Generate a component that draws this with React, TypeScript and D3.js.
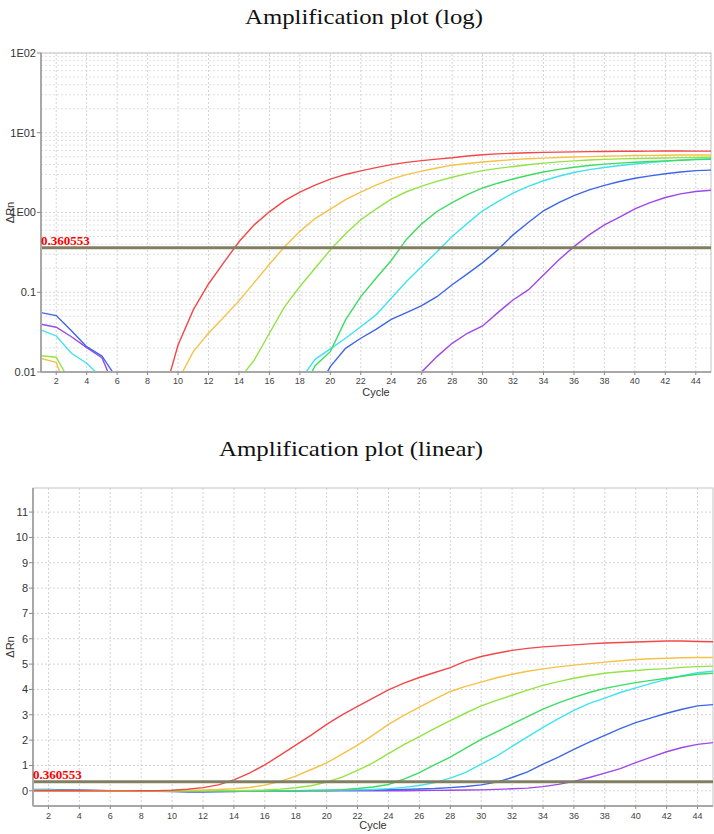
import * as d3 from 'd3';

const cycles = [
  1, 2, 3, 4, 5, 6, 7, 8, 9, 10, 11, 12, 13, 14, 15, 16, 17, 18, 19, 20, 21, 22, 23,
  24, 25, 26, 27, 28, 29, 30, 31, 32, 33, 34, 35, 36, 37, 38, 39, 40, 41, 42, 43, 44, 45,
];

const red = [
  0.004, 0.003, 0.002, 0.001, -0.002, -0.003, -0.002, 0.001, 0.0046, 0.0218,
  0.06, 0.127, 0.235, 0.43, 0.7, 1.02, 1.41, 1.8, 2.2, 2.62,
  3.0, 3.33, 3.66, 3.98, 4.25, 4.47, 4.67, 4.86, 5.12, 5.3,
  5.43, 5.54, 5.62, 5.68, 5.72, 5.76, 5.8, 5.83, 5.85, 5.87,
  5.89, 5.91, 5.91, 5.89, 5.88,
];
const orange = [
  0.0148, 0.0132, 0.004, 0.001, -0.001, -0.002, -0.002, 0.0, 0.003, 0.0078,
  0.018, 0.0306, 0.0486, 0.078, 0.132, 0.224, 0.373, 0.58, 0.84, 1.1,
  1.45, 1.8, 2.2, 2.62, 2.98, 3.3, 3.62, 3.92, 4.12, 4.29,
  4.46, 4.6, 4.72, 4.81, 4.89, 4.96, 5.02, 5.08, 5.13, 5.18,
  5.21, 5.23, 5.25, 5.26, 5.26,
];
const lime = [
  0.016, 0.0153, 0.007, 0.002, 0.0, -0.001, -0.002, -0.001, 0.0, 0.001,
  0.002, 0.003, 0.005, 0.008, 0.0141, 0.0306, 0.066, 0.118, 0.2, 0.34,
  0.54, 0.81, 1.1, 1.47, 1.82, 2.14, 2.46, 2.77, 3.07, 3.35,
  3.57, 3.77, 3.97, 4.16, 4.31, 4.44, 4.55, 4.64, 4.7, 4.75,
  4.79, 4.82, 4.87, 4.9, 4.92,
];
const green = [
  0.004, 0.003, 0.001, 0.0, -0.001, 0.002, 0.001, 0.0, -0.001, -0.002,
  -0.002, -0.001, 0.0, 0.001, 0.001, 0.002, 0.003, 0.005, 0.012, 0.018,
  0.045, 0.088, 0.15, 0.25, 0.46, 0.72, 1.03, 1.33, 1.68, 2.03,
  2.33, 2.63, 2.93, 3.22, 3.47, 3.69, 3.88, 4.04, 4.16, 4.27,
  4.36, 4.44, 4.52, 4.6, 4.64,
];
const cyan = [
  0.0337, 0.0283, 0.0172, 0.0129, 0.0084, 0.004, 0.001, 0.0, -0.001, -0.002,
  -0.003, -0.003, -0.002, 0.0, 0.002, 0.003, 0.005, 0.0078, 0.0144, 0.0195,
  0.0265, 0.037, 0.052, 0.084, 0.136, 0.21, 0.32, 0.5, 0.73, 1.05,
  1.37, 1.75, 2.13, 2.5, 2.85, 3.17, 3.45, 3.66, 3.88, 4.06,
  4.24, 4.4, 4.54, 4.66, 4.72,
];
const blue = [
  0.0555, 0.051, 0.033, 0.0208, 0.0159, 0.0082, 0.0, -0.01, -0.02, -0.03,
  -0.045, -0.05, -0.04, -0.025, -0.012, -0.005, 0.0, 0.002, 0.0053, 0.0117,
  0.0198, 0.0265, 0.0343, 0.0458, 0.0555, 0.068, 0.088, 0.124, 0.17, 0.235,
  0.34, 0.524, 0.748, 1.05, 1.33, 1.63, 1.92, 2.19, 2.45, 2.69,
  2.88, 3.06, 3.22, 3.35, 3.4,
];
const purple = [
  0.0397, 0.0364, 0.0277, 0.0202, 0.0151, 0.0054, 0.001, -0.002, -0.003, -0.004,
  -0.005, -0.006, -0.007, -0.007, -0.006, -0.005, -0.004, -0.003, -0.002, -0.001,
  0.0, 0.001, 0.001, 0.002, 0.003, 0.01, 0.0156, 0.0229, 0.0306, 0.0378,
  0.0555, 0.08, 0.107, 0.165, 0.254, 0.373, 0.524, 0.7, 0.873, 1.11,
  1.33, 1.54, 1.71, 1.83, 1.9,
];

// drawn back to front, red ends on top
const series = [
  { name: 'purple', values: purple, color: '#9d48ec' },
  { name: 'blue', values: blue, color: '#3d66e8' },
  { name: 'cyan', values: cyan, color: '#3fe3ee' },
  { name: 'green', values: green, color: '#3ddc62' },
  { name: 'lime', values: lime, color: '#94e344' },
  { name: 'orange', values: orange, color: '#f5c247' },
  { name: 'red', values: red, color: '#f24848' },
];

const threshold = 0.360553;
const xTicks = [2, 4, 6, 8, 10, 12, 14, 16, 18, 20, 22, 24, 26, 28, 30, 32, 34, 36, 38, 40, 42, 44];
const logTicks = [100, 10, 1, 0.1, 0.01];
const logTickLabels = ['1E02', '1E01', '1E00', '0.1', '0.01'];
const linTicks = [0, 1, 2, 3, 4, 5, 6, 7, 8, 9, 10, 11];

const sans = '"Liberation Sans", Arial, sans-serif';
const serif = '"Liberation Serif", "Times New Roman", serif';
const gridColor = '#d4d4d4';
const axisColor = '#a8a8a8';

function Frame({ x, y, yTicks, yLabels, minor, xLabelY, cycleY, clipId, children }: any) {
  const [x0, x1] = x.range();
  const [y0, y1] = y.range();
  return (
    <g>
      {minor.map((v: number, i: number) => (
        <line key={'m' + i} x1={x0} x2={x1} y1={y(v)} y2={y(v)} stroke="#e0e0e0" strokeDasharray="2,2" />
      ))}
      {yTicks.map((v: number, i: number) => (
        <line key={'h' + i} x1={x0} x2={x1} y1={y(v)} y2={y(v)} stroke={gridColor} strokeDasharray="2,2" />
      ))}
      {xTicks.map((c) => (
        <line key={'v' + c} x1={x(c)} x2={x(c)} y1={y0} y2={y1} stroke={gridColor} strokeDasharray="2,2" />
      ))}
      <rect x={x0} y={y1} width={x1 - x0} height={y0 - y1} fill="none" stroke="#c4c4c4" />
      <g clipPath={`url(#${clipId})`}>{children}</g>
      <line x1={x0} x2={x0} y1={y1} y2={y0} stroke={axisColor} strokeWidth={2} />
      <line x1={x0} x2={x1} y1={y0} y2={y0} stroke={axisColor} strokeWidth={2} />
      {yTicks.map((v: number, i: number) => (
        <g key={'yt' + i}>
          <line x1={x0 - 4} x2={x0} y1={y(v)} y2={y(v)} stroke="#888" />
          <text x={x0 - 5} y={y(v)} dy="0.35em" textAnchor="end" fontFamily={sans} fontSize={11} fill="#333">
            {yLabels[i]}
          </text>
        </g>
      ))}
      {xTicks.map((c) => (
        <g key={'xt' + c}>
          <line x1={x(c)} x2={x(c)} y1={y0} y2={y0 + 3} stroke="#888" />
          <text x={x(c)} y={xLabelY} textAnchor="middle" fontFamily={sans} fontSize={9} fill="#444">
            {c}
          </text>
        </g>
      ))}
      <text x={(x0 + x1) / 2} y={cycleY} textAnchor="middle" fontFamily={sans} fontSize={11} fill="#333">
        Cycle
      </text>
      <text
        transform={`translate(14,${(y0 + y1) / 2}) rotate(-90)`}
        textAnchor="middle"
        fontFamily={sans}
        fontSize={11}
        fill="#333"
      >
        ΔRn
      </text>
    </g>
  );
}

export default function App() {
  const xLog = d3.scaleLinear().domain([1, 45]).range([41, 711]);
  const yLog = d3.scaleLog().domain([0.01, 100]).range([372, 53]);
  const xLin = d3.scaleLinear().domain([1, 45]).range([33, 713]);
  const yLin = d3.scaleLinear().domain([-0.6, 11.95]).range([806, 488]);

  const logLine = d3
    .line<number>()
    .x((_, i) => xLog(cycles[i]))
    .y((v) => yLog(Math.max(v, 0.0005)));
  const linLine = d3
    .line<number>()
    .x((_, i) => xLin(cycles[i]))
    .y((v) => yLin(v));

  const minorLog: number[] = [];
  [0.01, 0.1, 1, 10].forEach((d) => {
    for (let k = 2; k <= 9; k++) minorLog.push(d * k);
  });

  return (
    <>
      <style>{`body{margin:0}`}</style>
      <svg width={714} height={834} style={{ display: 'block', background: '#fff' }}>
        <defs>
          <clipPath id="clipLog">
            <rect x={41} y={53} width={670} height={319} />
          </clipPath>
          <clipPath id="clipLin">
            <rect x={33} y={488} width={680} height={318} />
          </clipPath>
        </defs>

        <text x={245} y={24} textLength={238} lengthAdjust="spacingAndGlyphs" fontFamily={serif} fontSize={22} fill="#111">
          Amplification plot (log)
        </text>
        <Frame x={xLog} y={yLog} yTicks={logTicks} yLabels={logTickLabels} minor={minorLog} xLabelY={384} cycleY={396} clipId="clipLog">
          {series.map((s) => (
            <path key={s.name} d={logLine(s.values) || ''} fill="none" stroke={s.color} strokeWidth={1.4} />
          ))}
          <line x1={41} x2={711} y1={yLog(threshold)} y2={yLog(threshold)} stroke="#807f62" strokeWidth={3} />
        </Frame>
        <text x={41} y={yLog(threshold) - 3} fontFamily={serif} fontWeight="bold" fontSize={13} fill="#ff0000">
          0.360553
        </text>

        <text x={219} y={456} textLength={264} lengthAdjust="spacingAndGlyphs" fontFamily={serif} fontSize={22} fill="#111">
          Amplification plot (linear)
        </text>
        <Frame x={xLin} y={yLin} yTicks={linTicks} yLabels={linTicks.map(String)} minor={[]} xLabelY={819} cycleY={829} clipId="clipLin">
          {series.map((s) => (
            <path key={s.name} d={linLine(s.values) || ''} fill="none" stroke={s.color} strokeWidth={1.4} />
          ))}
          <line x1={33} x2={713} y1={yLin(threshold)} y2={yLin(threshold)} stroke="#807f62" strokeWidth={3} />
        </Frame>
        <text x={33} y={yLin(threshold) - 3} fontFamily={serif} fontWeight="bold" fontSize={13} fill="#ff0000">
          0.360553
        </text>
      </svg>
    </>
  );
}
